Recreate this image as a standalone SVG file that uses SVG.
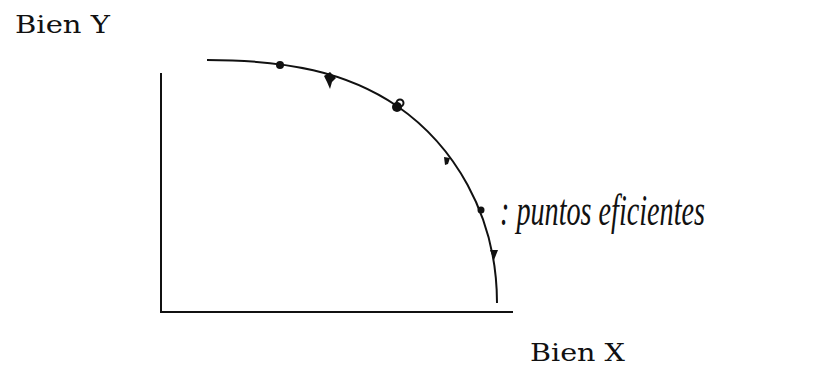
<svg xmlns="http://www.w3.org/2000/svg" width="840" height="384" viewBox="0 0 840 384">
<style>
.lbl{font-family:"DejaVu Serif","Liberation Serif",serif;font-size:25px;fill:#111}
.hand{font-family:"Liberation Serif",serif;font-style:italic;font-size:44px;fill:#111}
.ax{stroke:#111;stroke-width:2;fill:none}
.cv{stroke:#111;stroke-width:2;fill:none}
.pt{fill:#111}
</style>
<rect width="840" height="384" fill="#fff"/>
<g id="axes">
<line class="ax" x1="161" y1="73" x2="161" y2="313"/>
<line class="ax" x1="160" y1="312" x2="513" y2="312"/>
</g>
<g id="connectors">
<path class="cv" d="M207,60 C287,60 347,72 397,106 C452,144 497,213 497,303"/>
</g>
<g id="points">
<circle class="pt" cx="280" cy="65" r="4"/>
<path class="pt" d="M324,76 L330,72 L336,78 L332,82 L330,89 L327,82 Z"/>
<circle class="pt" cx="397" cy="107" r="5"/>
<circle cx="400" cy="103" r="3.5" fill="none" stroke="#111" stroke-width="2"/>
<path class="pt" d="M444,157 L450,158 L448,164 L445,165 Z"/>
<circle class="pt" cx="481" cy="210" r="3.5"/>
<path class="pt" d="M490,250 L498,250 L494,260 Z"/>
</g>
<g id="label-y"><text class="lbl" x="15" y="33" textLength="95" lengthAdjust="spacingAndGlyphs">Bien Y</text></g>
<g id="label-x"><text class="lbl" x="530" y="361" textLength="95" lengthAdjust="spacingAndGlyphs">Bien X</text></g>
<g id="note"><text class="hand" x="500" y="225" textLength="205" lengthAdjust="spacingAndGlyphs">: puntos eficientes</text></g>
</svg>
